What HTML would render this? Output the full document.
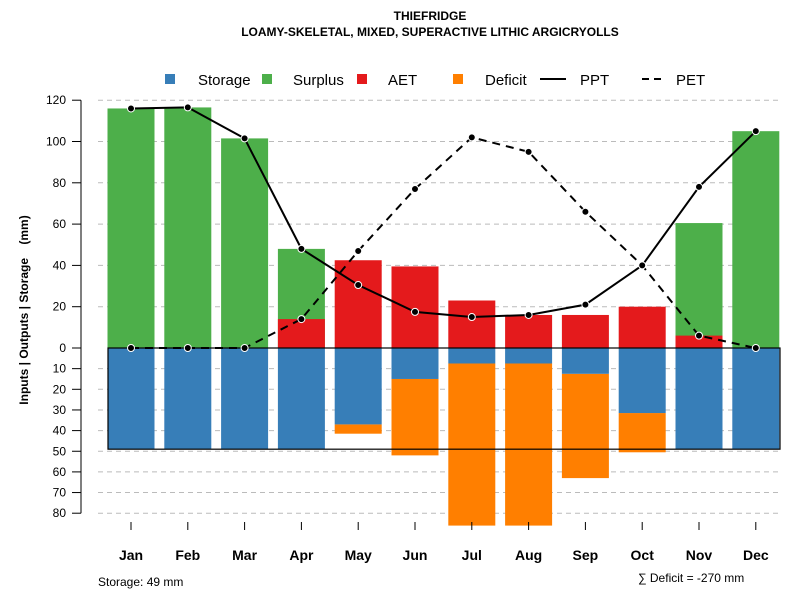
<!DOCTYPE html>
<html><head><meta charset="utf-8"><style>body{margin:0;background:#fff}svg{display:block;font-family:"Liberation Sans",sans-serif}</style></head>
<body>
<svg id="c" width="800" height="600">
<text x="430" y="20" text-anchor="middle" font-size="12" font-weight="bold">THIEFRIDGE</text>
<text x="430" y="36" text-anchor="middle" font-size="12" font-weight="bold">LOAMY-SKELETAL, MIXED, SUPERACTIVE LITHIC ARGICRYOLLS</text>
<g id="legend" font-size="15">
<rect x="165" y="74" width="10" height="10" fill="#377eb8"/><text x="198" y="85">Storage</text>
<rect x="262" y="74" width="10" height="10" fill="#4daf4a"/><text x="293" y="85">Surplus</text>
<rect x="357" y="74" width="10" height="10" fill="#e41a1c"/><text x="388" y="85">AET</text>
<rect x="453" y="74" width="10" height="10" fill="#ff7f00"/><text x="485" y="85">Deficit</text>
<line x1="540" y1="79" x2="566" y2="79" stroke="#000" stroke-width="2"/><text x="580" y="85">PPT</text>
<line x1="642" y1="79" x2="666" y2="79" stroke="#000" stroke-width="2" stroke-dasharray="7,5"/><text x="676" y="85">PET</text>
</g>
<g id="grid"></g><g id="bars"></g><g id="axes"></g><g id="lines"></g>
<text transform="translate(28,310) rotate(-90)" text-anchor="middle" font-size="12" font-weight="bold" style="white-space:pre">Inputs | Outputs | Storage    (mm)</text>
<text x="98" y="586" font-size="12">Storage: 49 mm</text>
<text x="638" y="582" font-size="12">∑ Deficit = -270 mm</text>
</svg>
<script>
const months=["Jan","Feb","Mar","Apr","May","Jun","Jul","Aug","Sep","Oct","Nov","Dec"];
const storage=[49,49,49,49,37,15,7.5,7.5,12.5,31.5,49,49];
const deficitBottom=[0,0,0,0,41.5,52,86,86,63,50.5,0,0];
const surplusTop=[116,116.5,101.5,48,0,0,0,0,0,0,60.5,105];
const aet=[0,0,0,14,42.5,39.5,23,16,16,20,6,0];
const ppt=[116,116.5,101.5,48,30.5,17.5,15,16,21,40,78,105];
const pet=[0,0,0,14,47,77,102,95,66,40,6,0];
const posTicks=[0,20,40,60,80,100,120];
const negTicks=[10,20,30,40,50,60,70,80];
const storageMax=49;
const NS="http://www.w3.org/2000/svg";
const y=v=>348-v*2.065;
const x=i=>131+i*56.8;
const bw=47;
function mk(p,t,a){const e=document.createElementNS(NS,t);for(const k in a)e.setAttribute(k,a[k]);document.getElementById(p).appendChild(e);return e;}
posTicks.concat(negTicks.map(v=>-v)).forEach(v=>{if(v===0)return;
const g=mk('grid','line',{x1:98,x2:780,y1:y(v),y2:y(v),stroke:'#bbb','stroke-dasharray':'5,4'});

});
months.forEach((m,i)=>{
const cx=x(i)-bw/2;
if(surplusTop[i]>0){const r=mk('bars','rect',{x:cx,y:y(surplusTop[i]),width:bw,height:y(0)-y(surplusTop[i]),fill:'#4daf4a'});

}
if(aet[i]>0){const r=mk('bars','rect',{x:cx,y:y(aet[i]),width:bw,height:y(0)-y(aet[i]),fill:'#e41a1c'});

}
if(deficitBottom[i]>0){const r=mk('bars','rect',{x:cx,y:y(-storage[i]),width:bw,height:y(-deficitBottom[i])-y(-storage[i]),fill:'#ff7f00'});

}
const s=mk('bars','rect',{x:cx,y:y(0),width:bw,height:y(-storage[i])-y(0),fill:'#377eb8'});


const t=mk('axes','line',{x1:x(i),x2:x(i),y1:522,y2:530,stroke:'#000'});


const l=mk('axes','text',{x:x(i),y:560,'text-anchor':'middle','font-size':14,'font-weight':'bold'});l.textContent=m;


});
const box=mk('bars','rect',{x:108,y:y(0),width:672,height:y(-storageMax)-y(0),fill:'none',stroke:'#000','stroke-width':1.2});


const ax=mk('axes','line',{x1:81,x2:81,y1:y(120),y2:y(-80),stroke:'#555','stroke-width':1.5});


posTicks.concat(negTicks.map(v=>-v)).forEach(v=>{
const t=mk('axes','line',{x1:72,x2:81,y1:y(v),y2:y(v),stroke:'#000'});


const l=mk('axes','text',{x:66,y:y(v)+4,'text-anchor':'end','font-size':12});l.textContent=Math.abs(v);

});
function series(arr,name,dash){
const p=mk('lines','polyline',{points:arr.map((v,i)=>x(i)+','+y(v)).join(' '),fill:'none',stroke:'#000','stroke-width':2,'stroke-dasharray':dash});


arr.forEach((v,i)=>{const c=mk('lines','circle',{cx:x(i),cy:y(v),r:3.5,fill:'#000',stroke:'#fff','stroke-width':1});

});}
series(pet,'pet','8,6');series(ppt,'ppt','none');
</script>
</body></html>
